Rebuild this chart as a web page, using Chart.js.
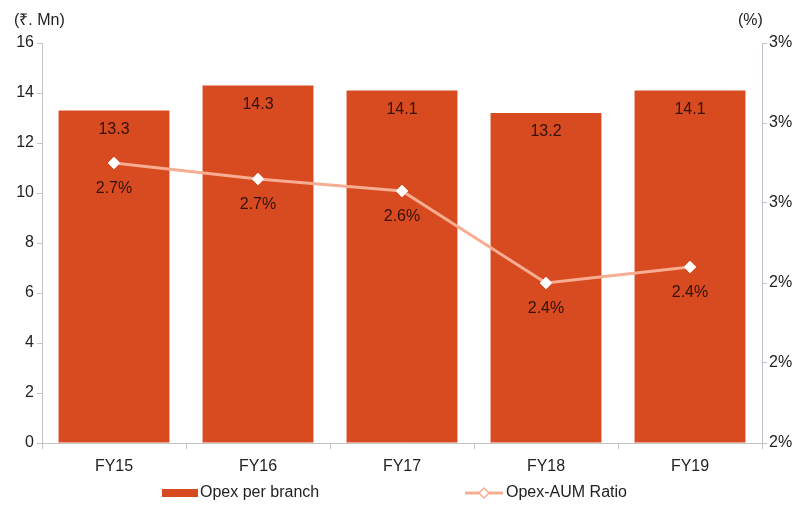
<!DOCTYPE html>
<html>
<head>
<meta charset="utf-8">
<script src="https://cdn.jsdelivr.net/npm/chart.js@4"></script>
<style>
  html, body { margin: 0; padding: 0; background: #fff; }
  #wrap { width: 802px; height: 506px; }
</style>
</head>
<body>
<div id="wrap"><canvas id="opexChart" width="802" height="506"></canvas></div>
<script>
const years = ["FY15", "FY16", "FY17", "FY18", "FY19"];
const opexPerBranch = [13.3, 14.3, 14.1, 13.2, 14.1];
const opexAumRatio = [2.70, 2.66, 2.63, 2.40, 2.44];

const barColor = "#D84A1F";
const lineColor = "#F6AD91";
const textColor = "#222";
const axisColor = "#c4c4c4";
const font = "Arial, 'Liberation Sans', sans-serif";

// value labels, axis units and the legend are drawn by hand
const extras = {
  id: "extras",
  afterDatasetsDraw(chart) {
    const ctx = chart.ctx;
    ctx.save();
    ctx.font = "16px " + font;
    ctx.fillStyle = "#331209";
    ctx.textAlign = "center";
    ctx.textBaseline = "middle";
    chart.getDatasetMeta(1).data.forEach((bar, i) => {
      ctx.fillText(opexPerBranch[i].toFixed(1), bar.x, bar.y + 19);
    });
    chart.getDatasetMeta(0).data.forEach((pt, i) => {
      ctx.fillText(opexAumRatio[i].toFixed(1) + "%", pt.x, pt.y + 26);
    });

    ctx.fillStyle = textColor;
    ctx.textAlign = "left";
    ctx.fillText("(₹. Mn)", 14, 21);
    ctx.fillText("(%)", 738, 21);

    // legend
    const ly = 493;
    ctx.fillStyle = barColor;
    ctx.fillRect(162, ly - 4, 36, 8);
    ctx.fillStyle = textColor;
    ctx.fillText("Opex per branch", 200, ly);

    ctx.strokeStyle = lineColor;
    ctx.lineWidth = 3;
    ctx.beginPath();
    ctx.moveTo(465, ly);
    ctx.lineTo(503, ly);
    ctx.stroke();
    ctx.fillStyle = "#fff";
    ctx.lineWidth = 1.5;
    ctx.beginPath();
    ctx.moveTo(484, ly - 5);
    ctx.lineTo(489, ly);
    ctx.lineTo(484, ly + 5);
    ctx.lineTo(479, ly);
    ctx.closePath();
    ctx.fill();
    ctx.stroke();
    ctx.fillStyle = textColor;
    ctx.fillText("Opex-AUM Ratio", 506, ly);
    ctx.restore();
  }
};

new Chart(document.getElementById("opexChart"), {
  data: {
    labels: years,
    datasets: [
      {
        type: "line",
        label: "Opex-AUM Ratio",
        data: opexAumRatio,
        yAxisID: "y1",
        borderColor: lineColor,
        borderWidth: 3,
        pointStyle: "rectRot",
        pointRadius: 6,
        pointBackgroundColor: "#fff",
        pointBorderColor: "#fbe0d6",
        pointBorderWidth: 1,
        order: 0
      },
      {
        type: "bar",
        label: "Opex per branch",
        data: opexPerBranch,
        yAxisID: "y",
        backgroundColor: barColor,
        categoryPercentage: 1,
        barPercentage: 0.77,
        order: 1
      }
    ]
  },
  options: {
    responsive: false,
    animation: false,
    devicePixelRatio: 1,
    layout: { padding: { top: 43, bottom: 28, left: 0, right: 0 } },
    plugins: {
      legend: { display: false },
      tooltip: { enabled: false }
    },
    scales: {
      x: {
        afterFit: s => { s.height = 35; },
        grid: { offset: true, drawOnChartArea: false, tickLength: 6, color: axisColor },
        border: { color: axisColor },
        ticks: { color: textColor, font: { size: 16, family: font }, padding: 8 }
      },
      y: {
        position: "left",
        min: 0,
        max: 16,
        afterFit: s => { s.width = 42; },
        grid: { drawOnChartArea: false, tickLength: 5, color: axisColor },
        border: { color: axisColor },
        ticks: { stepSize: 2, color: textColor, font: { size: 16, family: font }, padding: 3 }
      },
      y1: {
        position: "right",
        min: 2,
        max: 3,
        afterFit: s => { s.width = 40; },
        grid: { drawOnChartArea: false, tickLength: 5, color: axisColor },
        border: { color: "#b8c0cc" },
        ticks: {
          stepSize: 0.2,
          color: textColor,
          font: { size: 16, family: font },
          padding: 2,
          callback: v => Math.round(v) + "%"
        }
      }
    }
  },
  plugins: [extras]
});
</script>
</body>
</html>
